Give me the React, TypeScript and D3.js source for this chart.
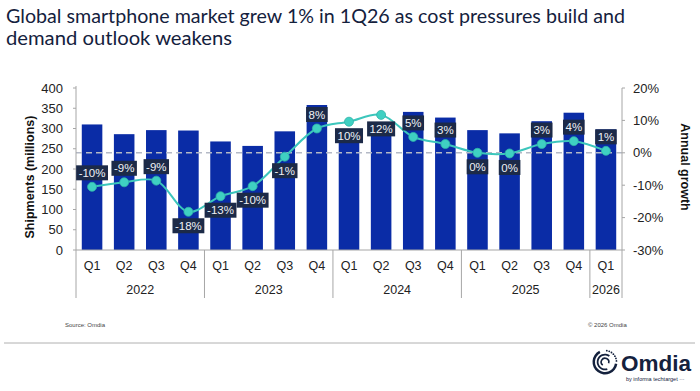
import * as d3 from 'd3';
import React, { useEffect, useRef } from 'react';

const quarters = ['Q1', 'Q2', 'Q3', 'Q4', 'Q1', 'Q2', 'Q3', 'Q4', 'Q1', 'Q2', 'Q3', 'Q4', 'Q1', 'Q2', 'Q3', 'Q4', 'Q1'];
const years = ['2022', '2023', '2024', '2025', '2026'];
const quartersPerYear = [4, 4, 4, 4, 1];
// shipments, millions
const shipments = [310, 286, 296, 295, 268, 257, 293, 358, 296, 288, 341, 327, 296, 288, 318, 339, 298];
// annual growth, %
const growth = [-10.5, -9.1, -8.6, -18.2, -13.4, -10.3, -1.2, 7.5, 9.6, 11.7, 4.9, 2.7, 0, -0.2, 2.7, 3.6, 0.6];
const growthLabels = ['-10%', '-9%', '-9%', '-18%', '-13%', '-10%', '-1%', '8%', '10%', '12%', '5%', '3%', '0%', '0%', '3%', '4%', '1%'];
const labelSide = ['up', 'up', 'up', 'down', 'down', 'down', 'down', 'up', 'down', 'down', 'up', 'up', 'down', 'down', 'up', 'up', 'up'];

const W = 700;
const H = 391;
const margin = { top: 88, right: 78, bottom: 141, left: 76 };

const navy = '#14213d';
const barColor = '#0a2ca6';
const teal = '#3cc6bc';
const axisGray = '#a6a6a6';
const font = '"Liberation Sans", Arial, sans-serif';

export default function App() {
  const ref = useRef<SVGSVGElement>(null);

  useEffect(() => {
    const svg = d3.select(ref.current);
    svg.selectAll('*').remove();

    const x0 = margin.left;
    const x1 = W - margin.right;
    const yTop = margin.top;
    const yBot = H - margin.bottom;

    const x = d3
      .scaleBand<number>()
      .domain(d3.range(quarters.length))
      .range([x0, x1])
      .paddingInner(0.36)
      .paddingOuter(0.18);
    const cx = (i: number) => (x(i) as number) + x.bandwidth() / 2;
    const boundary = (i: number) => (i >= quarters.length ? x1 : (x(i) as number) - (x.step() * x.paddingInner()) / 2);

    const yL = d3.scaleLinear().domain([0, 400]).range([yBot, yTop]);
    const yR = d3.scaleLinear().domain([-30, 20]).range([yBot, yTop]);

    // title
    const title = svg.append('g').attr('fill', navy).style('font-family', 'Lato, "Open Sans", sans-serif').style('font-size', '19.5px');
    title
      .append('text')
      .attr('x', 6)
      .attr('y', 23)
      .attr('textLength', 619)
      .attr('lengthAdjust', 'spacingAndGlyphs')
      .text('Global smartphone market grew 1% in 1Q26 as cost pressures build and');
    title
      .append('text')
      .attr('x', 6)
      .attr('y', 45)
      .attr('textLength', 226)
      .attr('lengthAdjust', 'spacingAndGlyphs')
      .text('demand outlook weakens');

    // bars
    svg
      .append('g')
      .selectAll('rect')
      .data(shipments)
      .join('rect')
      .attr('x', (_, i) => x(i) as number)
      .attr('width', x.bandwidth())
      .attr('y', (d) => yL(d))
      .attr('height', (d) => yBot - yL(d))
      .attr('fill', barColor);

    // zero growth dashed line
    svg
      .append('line')
      .attr('x1', x0)
      .attr('x2', x1)
      .attr('y1', yR(0))
      .attr('y2', yR(0))
      .attr('stroke', '#b4b9c6')
      .attr('stroke-width', 1.6)
      .attr('stroke-dasharray', '6,4');

    // axes lines
    const axes = svg.append('g').attr('stroke', axisGray).attr('stroke-width', 1);
    axes.append('line').attr('x1', x0).attr('x2', x0).attr('y1', yTop - 2).attr('y2', 298);
    axes.append('line').attr('x1', x1).attr('x2', x1).attr('y1', yTop).attr('y2', 298);
    axes.append('line').attr('x1', x0).attr('x2', x1).attr('y1', yBot).attr('y2', yBot);

    let idx = 0;
    const groupStarts: number[] = [];
    quartersPerYear.forEach((n) => {
      groupStarts.push(idx);
      idx += n;
    });
    groupStarts.slice(1).forEach((s) => {
      axes.append('line').attr('x1', boundary(s)).attr('x2', boundary(s)).attr('y1', yBot).attr('y2', 298);
    });

    // left ticks
    const left = svg.append('g').style('font-family', font).style('font-size', '13px').attr('fill', '#222');
    yL.ticks(8).forEach((t) => {
      left.append('line').attr('x1', x0 - 3).attr('x2', x0).attr('y1', yL(t)).attr('y2', yL(t)).attr('stroke', axisGray);
      left
        .append('text')
        .attr('x', 63)
        .attr('y', yL(t))
        .attr('dy', '0.35em')
        .attr('text-anchor', 'end')
        .text(t);
    });

    // right ticks
    const right = svg.append('g').style('font-family', font).style('font-size', '13px').attr('fill', '#222');
    yR.ticks(5).forEach((t) => {
      right.append('line').attr('x1', x1).attr('x2', x1 + 3).attr('y1', yR(t)).attr('y2', yR(t)).attr('stroke', axisGray);
      right
        .append('text')
        .attr('x', 633)
        .attr('y', yR(t))
        .attr('dy', '0.35em')
        .text(`${t}%`);
    });

    // x labels
    const xl = svg.append('g').style('font-family', font).style('font-size', '12.5px').attr('fill', '#222').attr('text-anchor', 'middle');
    quarters.forEach((q, i) => {
      xl.append('text').attr('x', cx(i)).attr('y', 270).text(q);
    });
    years.forEach((yr, j) => {
      const s = groupStarts[j];
      const e = s + quartersPerYear[j];
      xl.append('text')
        .attr('x', (boundary(s) + boundary(e)) / 2)
        .attr('y', 294)
        .text(yr);
    });

    // axis titles
    svg
      .append('text')
      .attr('transform', `translate(34,${(yTop + yBot) / 2 + 8}) rotate(-90)`)
      .attr('text-anchor', 'middle')
      .style('font-family', font)
      .style('font-size', '12.5px')
      .style('font-weight', 'bold')
      .attr('fill', '#111')
      .text('Shipments (millions)');
    svg
      .append('text')
      .attr('transform', `translate(681,${167}) rotate(90)`)
      .attr('text-anchor', 'middle')
      .style('font-family', font)
      .style('font-size', '12.5px')
      .style('font-weight', 'bold')
      .attr('fill', '#111')
      .text('Annual growth');

    // growth line
    const line = d3
      .line<number>()
      .x((_, i) => cx(i))
      .y((d) => yR(d))
      .curve(d3.curveCatmullRom.alpha(0.5));
    svg.append('path').attr('d', line(growth)).attr('fill', 'none').attr('stroke', teal).attr('stroke-width', 2);
    svg
      .append('g')
      .selectAll('circle')
      .data(growth)
      .join('circle')
      .attr('cx', (_, i) => cx(i))
      .attr('cy', (d) => yR(d))
      .attr('r', 4.5)
      .attr('fill', '#3fd0c2')
      .attr('stroke', '#2fb3a8')
      .attr('stroke-width', 0.8);

    // growth labels
    const labels = svg.append('g').style('font-family', font).style('font-size', '11.5px');
    growth.forEach((g, i) => {
      const ly = yR(g) + (labelSide[i] === 'up' ? -14 : 14);
      const lg = labels.append('g');
      const rect = lg.append('rect').attr('fill', '#1c2a48');
      const txt = lg
        .append('text')
        .attr('x', cx(i))
        .attr('y', ly)
        .attr('dy', '0.36em')
        .attr('text-anchor', 'middle')
        .attr('fill', '#eef1f6')
        .text(growthLabels[i]);
      const w = (txt.node() as SVGTextElement).getComputedTextLength() + 5;
      rect.attr('x', cx(i) - w / 2).attr('y', ly - 7.5).attr('width', w).attr('height', 15);
    });

    // footer
    const foot = svg.append('g').style('font-family', font).style('font-size', '6px').attr('fill', '#444');
    foot.append('text').attr('x', 65).attr('y', 327).text('Source: Omdia');
    foot.append('text').attr('x', 588).attr('y', 327).text('© 2026 Omdia');
    svg.append('line').attr('x1', 4).attr('x2', 695).attr('y1', 343).attr('y2', 343).attr('stroke', '#b0b0b0');

    // logo
    const logo = svg.append('g').attr('transform', 'translate(605,362)');
    const arc = d3.arc();
    logo
      .append('path')
      .attr('d', arc({ innerRadius: 10, outerRadius: 12.5, startAngle: Math.PI * 0.55, endAngle: Math.PI * 1.85 }) as string)
      .attr('fill', navy);
    logo
      .append('path')
      .attr('d', arc({ innerRadius: 6.5, outerRadius: 8.3, startAngle: Math.PI * 0.9, endAngle: Math.PI * 2.2 }) as string)
      .attr('fill', navy);
    logo
      .append('path')
      .attr('d', arc({ innerRadius: 3, outerRadius: 4.6, startAngle: Math.PI * 1.2, endAngle: Math.PI * 2.6 }) as string)
      .attr('fill', navy);
    d3.range(7).forEach((k) => {
      const a = -Math.PI * 0.45 + k * 0.22;
      logo
        .append('circle')
        .attr('cx', Math.cos(a) * 11.5)
        .attr('cy', Math.sin(a) * 11.5)
        .attr('r', 0.9)
        .attr('fill', navy);
    });
    svg
      .append('text')
      .attr('x', 621)
      .attr('y', 371)
      .attr('textLength', 70)
      .attr('lengthAdjust', 'spacingAndGlyphs')
      .style('font-family', font)
      .style('font-size', '22px')
      .style('font-weight', 'bold')
      .attr('fill', navy)
      .text('Omdia');
    svg
      .append('text')
      .attr('x', 626)
      .attr('y', 381)
      .style('font-family', font)
      .style('font-size', '5.5px')
      .attr('fill', navy)
      .text('by informa techtarget ···');
  }, []);

  return <svg ref={ref} width={W} height={H} style={{ position: 'absolute', left: 0, top: 0, background: '#fff' }} />;
}
